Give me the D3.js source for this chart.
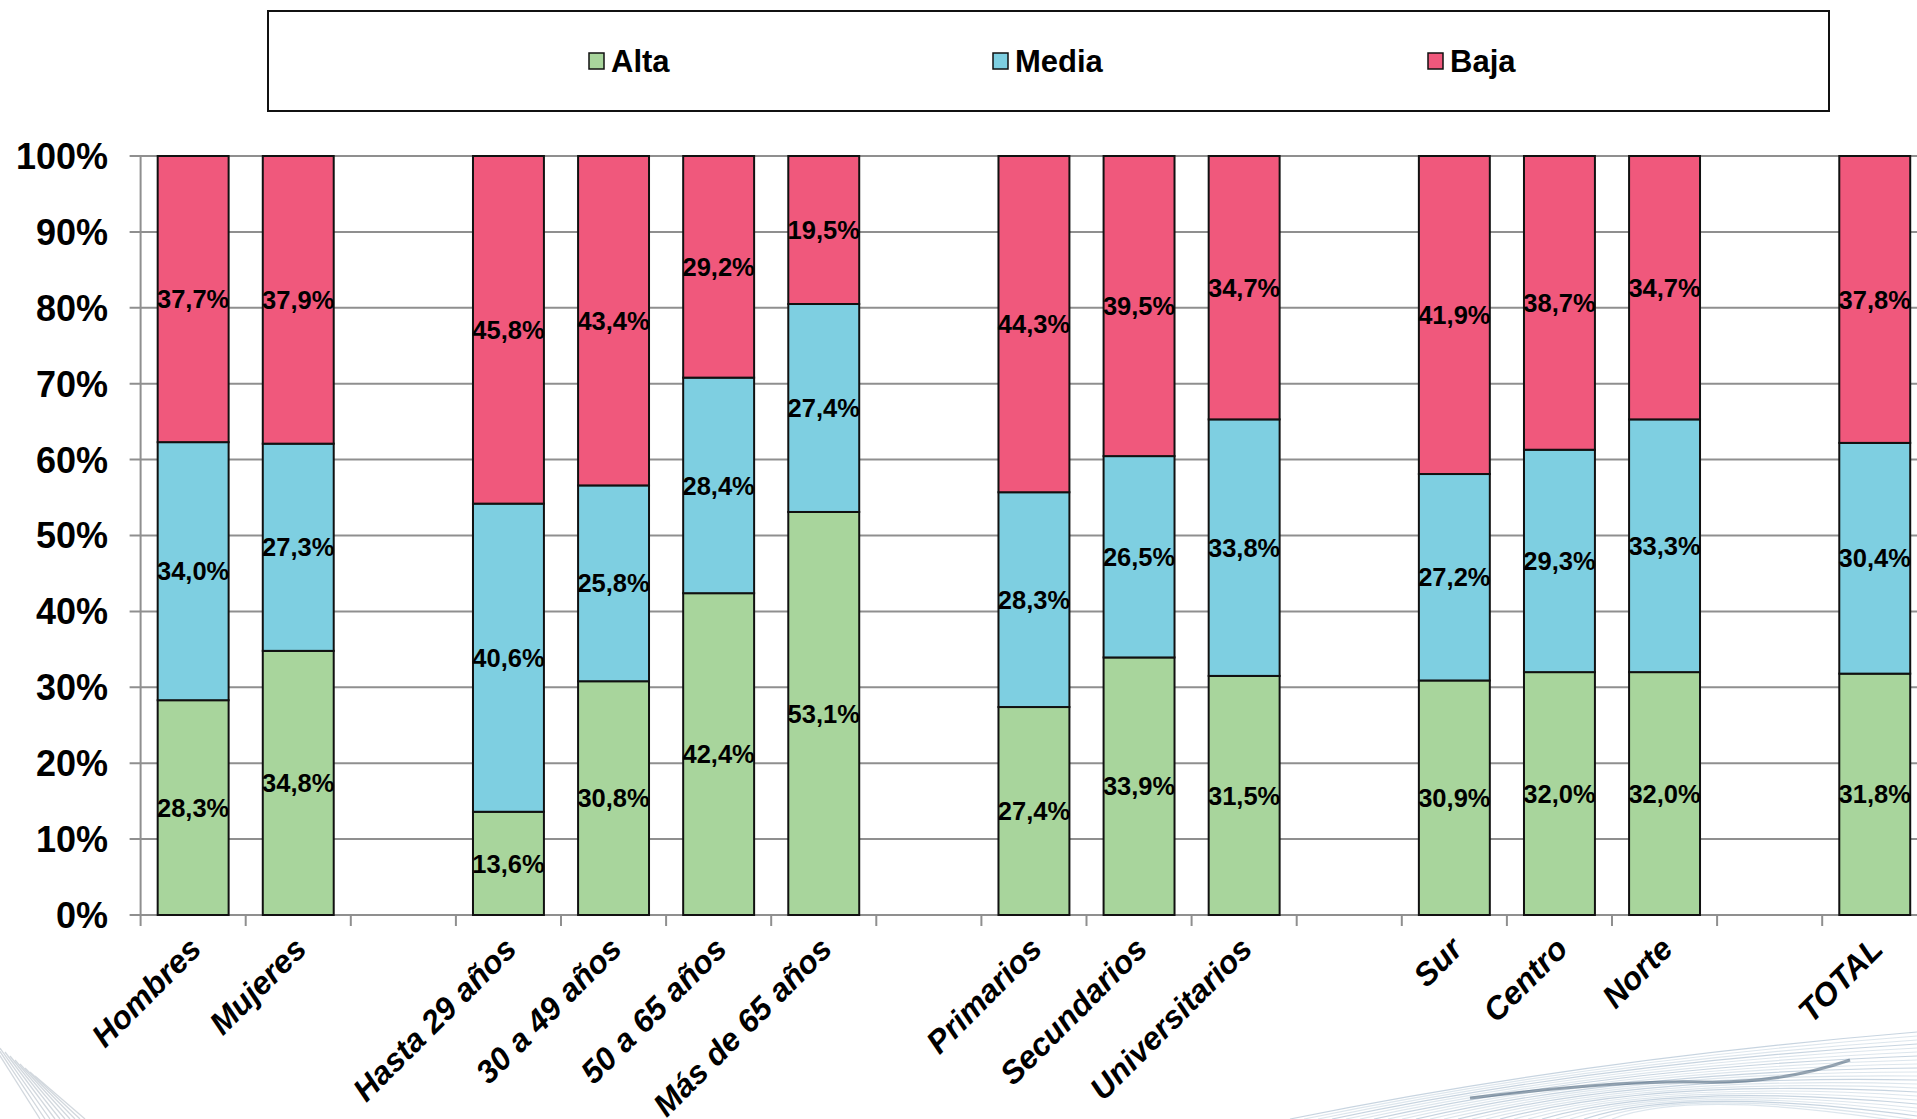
<!DOCTYPE html>
<html>
<head>
<meta charset="utf-8">
<script src="https://cdn.jsdelivr.net/npm/d3@7"></script>
<style>
  body { margin: 0; background: #fff; }
  svg { display: block; font-family: "Liberation Sans", Arial, sans-serif; }
</style>
</head>
<body>
<svg width="1917" height="1119"></svg>
<script>
// categories, null = empty slot between groups
const categories = ["Hombres", "Mujeres", null, "Hasta 29 años", "30 a 49 años", "50 a 65 años", "Más de 65 años",
  null, "Primarios", "Secundarios", "Universitarios", null, "Sur", "Centro", "Norte", null, "TOTAL"];
const alta  = [28.3, 34.8, null, 13.6, 30.8, 42.4, 53.1, null, 27.4, 33.9, 31.5, null, 30.9, 32.0, 32.0, null, 31.8];
const media = [34.0, 27.3, null, 40.6, 25.8, 28.4, 27.4, null, 28.3, 26.5, 33.8, null, 27.2, 29.3, 33.3, null, 30.4];
const baja  = [37.7, 37.9, null, 45.8, 43.4, 29.2, 19.5, null, 44.3, 39.5, 34.7, null, 41.9, 38.7, 34.7, null, 37.8];
const seriesNames = ["Alta", "Media", "Baja"];
const colors = ["#a8d59c", "#7ecfe1", "#f0587c"];
const yTicks = [0, 0.1, 0.2, 0.3, 0.4, 0.5, 0.6, 0.7, 0.8, 0.9, 1];

const svg = d3.select("svg");
const W = +svg.attr("width"), H = +svg.attr("height");

// background swoosh decoration
const deco = svg.append("g").attr("fill", "none");
d3.range(24).forEach(i => {
  deco.append("path")
    .attr("d", `M${1290 + i * 14},${1119} Q${1580 + i * 5},${1060 + i * 1.2} ${1917},${1032 + i * 4}`)
    .attr("stroke", i % 3 ? "#cfdbe6" : "#afc2d3")
    .attr("stroke-width", 1.2)
    .attr("opacity", 0.7);
});
deco.append("path")
  .attr("d", "M1470,1098 Q1620,1080 1700,1082 T1850,1060")
  .attr("stroke", "#2f4b66").attr("stroke-width", 3).attr("opacity", 0.5);
d3.range(10).forEach(i => {
  deco.append("path")
    .attr("d", `M${-10 + i * 5},${1040 + i * 4} L${40 + i * 5},${1119}`)
    .attr("stroke", "#d2d8de").attr("stroke-width", 1.3);
});

const x0 = 140.6, step = 105.1;
const x = d3.scaleBand()
  .domain(d3.range(categories.length))
  .range([x0, x0 + step * categories.length])
  .paddingInner(0.325)
  .paddingOuter(0.1625);

const y = d3.scaleLinear().domain([0, 1]).range([915, 156]);

// gridlines
svg.append("g")
  .selectAll("line")
  .data(yTicks)
  .join("line")
  .attr("x1", x0 - 11).attr("x2", W)
  .attr("y1", d => y(d)).attr("y2", d => y(d))
  .attr("stroke", "#8f8f8f").attr("stroke-width", 2);

// y axis line
svg.append("line")
  .attr("x1", x0).attr("x2", x0)
  .attr("y1", y(1)).attr("y2", y(0))
  .attr("stroke", "#8f8f8f").attr("stroke-width", 2);

// x tick marks at slot boundaries
svg.append("g")
  .selectAll("line")
  .data(d3.range(categories.length + 1))
  .join("line")
  .attr("x1", i => x0 + i * x.step()).attr("x2", i => x0 + i * x.step())
  .attr("y1", y(0)).attr("y2", y(0) + 11)
  .attr("stroke", "#8f8f8f").attr("stroke-width", 2);

// y labels
svg.append("g")
  .selectAll("text")
  .data(yTicks)
  .join("text")
  .attr("x", 108)
  .attr("y", d => y(d))
  .attr("dy", "0.36em")
  .attr("text-anchor", "end")
  .style("font-size", "36px")
  .style("font-weight", "bold")
  .text(d3.format(".0%"));

// stacked bars
const rows = categories.map((c, i) => ({ i, c, Alta: alta[i], Media: media[i], Baja: baja[i] }))
  .filter(d => d.c !== null);
const stacked = d3.stack().keys(seriesNames).offset(d3.stackOffsetExpand)(rows);

const layers = svg.append("g")
  .selectAll("g")
  .data(stacked)
  .join("g")
  .attr("fill", (d, k) => colors[k]);

layers.selectAll("rect")
  .data(d => d)
  .join("rect")
  .attr("x", d => x(d.data.i))
  .attr("width", x.bandwidth())
  .attr("y", d => y(d[1]))
  .attr("height", d => y(d[0]) - y(d[1]))
  .attr("stroke", "#111")
  .attr("stroke-width", 2);

// value labels
stacked.forEach(layer => {
  svg.append("g")
    .selectAll("text")
    .data(layer)
    .join("text")
    .attr("x", d => x(d.data.i) + x.bandwidth() / 2)
    .attr("y", d => y((d[0] + d[1]) / 2))
    .attr("dy", "0.36em")
    .attr("text-anchor", "middle")
    .style("font-size", "25.5px")
    .style("font-weight", "bold")
    .text(d => d3.format(".1f")(d.data[layer.key]).replace(".", ",") + "%");
});

// category labels
svg.append("g")
  .selectAll("text")
  .data(rows)
  .join("text")
  .attr("transform", d => `translate(${x(d.i) + x.bandwidth() / 2 + 10},${y(0) + 36}) rotate(-45)`)
  .attr("text-anchor", "end")
  .style("font-size", "32px")
  .style("font-weight", "bold")
  .style("font-style", "italic")
  .text(d => d.c);

// legend
const legend = svg.append("g");
legend.append("rect")
  .attr("x", 268).attr("y", 11)
  .attr("width", 1561).attr("height", 100)
  .attr("fill", "#fff").attr("stroke", "#111").attr("stroke-width", 2);

const legendX = [589, 993, 1428];
seriesNames.forEach((name, k) => {
  legend.append("rect")
    .attr("x", legendX[k]).attr("y", 53)
    .attr("width", 15).attr("height", 16)
    .attr("fill", colors[k]).attr("stroke", "#111").attr("stroke-width", 1.5);
  legend.append("text")
    .attr("x", legendX[k] + 22).attr("y", 61)
    .attr("dy", "0.36em")
    .style("font-size", "31px")
    .style("font-weight", "bold")
    .text(name);
});
</script>
</body>
</html>
